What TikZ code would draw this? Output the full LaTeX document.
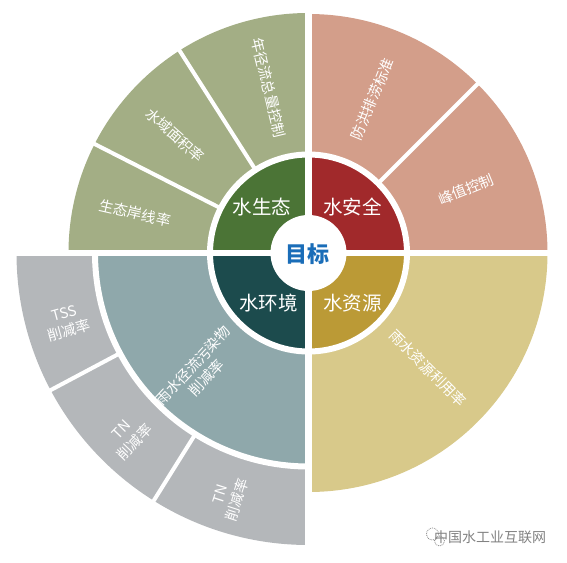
\documentclass[tikz,border=0pt]{standalone}
\usepackage{fontspec}
\newfontfamily\cjk{Noto Sans CJK SC}
\definecolor{ecoout}{RGB}{163,174,133}
\definecolor{ecoin}{RGB}{75,116,54}
\definecolor{safeout}{RGB}{211,158,138}
\definecolor{safein}{RGB}{161,41,43}
\definecolor{resout}{RGB}{216,201,138}
\definecolor{resin}{RGB}{187,154,54}
\definecolor{envout}{RGB}{180,183,186}
\definecolor{envmid}{RGB}{143,168,171}
\definecolor{envin}{RGB}{28,75,77}
\definecolor{goalblue}{RGB}{26,109,184}
\definecolor{markgray}{RGB}{130,130,130}
\tikzset{
  gap/.style={draw=white, line width=6pt},
  sep/.style={draw=white, line width=4pt},
  outlab/.style={font=\cjk\fontsize{14.5}{18}\selectfont, text=white, align=center, inner sep=0pt},
  inlab/.style={font=\cjk\fontsize{19.5}{22}\selectfont, text=white, inner sep=0pt}
}
\newcommand{\pie}[4]{\fill[#4] (0,0) -- (#1:#3) arc[start angle=#1, end angle=#2, radius=#3] -- cycle;}
\begin{document}
\begin{tikzpicture}[x=1pt, y=1pt]
\useasboundingbox (-308.5,-309) rectangle (258.5,253);
\pie{90}{180}{240}{ecoout}
\pie{0}{90}{239}{safeout}
\pie{270}{360}{239}{resout}
\pie{180}{270}{292}{envout}
\pie{180}{270}{211}{envmid}
\pie{90}{180}{96}{ecoin}
\pie{0}{90}{96}{safein}
\pie{270}{360}{96}{resin}
\pie{180}{270}{96}{envin}
\draw[gap] (0,0) circle[radius=98.5];
\draw[gap] (180:213.5) arc[start angle=180, end angle=270, radius=213.5];
\draw[sep] (122.5:99) -- (122.5:245);
\draw[sep] (153:99) -- (153:245);
\draw[sep] (45:99) -- (45:245);
\draw[sep] (208:214) -- (208:300);
\draw[sep] (238:214) -- (238:300);
\draw[gap] (-300,0) -- (300,0);
\draw[gap, line width=7pt] (0,-300) -- (0,300);
\fill[white] (0,0) circle[radius=38];
\node[font=\cjk\bfseries\fontsize{22}{24}\selectfont, text=goalblue, inner sep=0pt] (goal) at (-1,-1) {目标};
\node[inlab] (eco) at (-46.5,46) {水生态};
\node[inlab] (safe) at (44,46) {水安全};
\node[inlab] (env) at (-40,-50) {水环境};
\node[inlab] (res) at (44,-50) {水资源};
\node[outlab, rotate=-76.5] (runoff) at (103.5:170) {年径流总量控制};
\node[outlab, rotate=-41.5] (area) at (138.5:178) {水域面积率};
\node[outlab, rotate=-13] (shore) at (167:178) {生态岸线率};
\node[outlab, rotate=67.5] (flood) at (67.5:167) {防洪排涝标准};
\node[outlab, rotate=22] (peak) at (22:170) {峰值控制};
\node[outlab, rotate=-45] (reuse) at (-44:166) {雨水资源利用率};
\node[outlab, rotate=47] (pollut) at (227.5:161) {雨水径流污染物\\削减率};
\node[outlab, rotate=15.5] (tss) at (196:251) {TSS\\削减率};
\node[outlab, rotate=46] (tna) at (225.5:257) {TN\\削减率};
\node[outlab, rotate=72] (tnb) at (252:257) {TN\\削减率};
\node[font=\cjk\fontsize{14}{16}\selectfont, text=markgray, inner sep=0pt] (mark) at (181.5,-284) {中国水工业互联网};
\draw[markgray, densely dotted, line width=0.8pt] (124,-281) circle[radius=6] (131,-288) circle[radius=5];
\end{tikzpicture}
\end{document}
